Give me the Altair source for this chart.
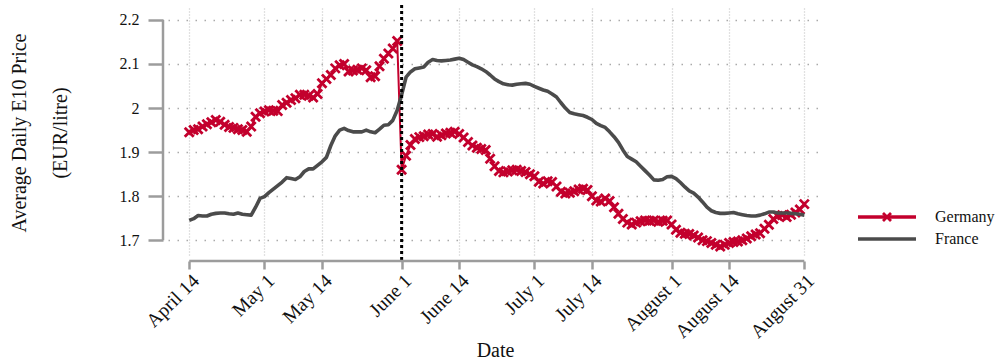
import altair as alt
import pandas as pd

# Daily average E10 prices (EUR/litre), 14 April - 31 August 2022
first_day = "2022-04-14"
n_days = 140

germany = [
    1.945, 1.950, 1.952, 1.958, 1.963, 1.968, 1.973, 1.969, 1.962, 1.957,
    1.955, 1.952, 1.950, 1.946, 1.958, 1.980, 1.988, 1.992, 1.995, 1.994,
    1.993, 2.007, 2.012, 2.018, 2.022, 2.030, 2.030, 2.028, 2.024, 2.032,
    2.056, 2.066, 2.075, 2.090, 2.097, 2.100, 2.083, 2.085, 2.087, 2.090,
    2.086, 2.070, 2.072, 2.095, 2.112, 2.124, 2.135, 2.152, 1.860, 1.892,
    1.916, 1.930, 1.934, 1.936, 1.940, 1.941, 1.935, 1.938, 1.942, 1.944,
    1.946, 1.941, 1.933, 1.923, 1.915, 1.910, 1.907, 1.905, 1.885, 1.868,
    1.857, 1.854, 1.856, 1.859, 1.860, 1.857, 1.855, 1.850, 1.845, 1.833,
    1.829, 1.834, 1.832, 1.822, 1.810, 1.806, 1.808, 1.811, 1.815, 1.817,
    1.814, 1.800, 1.790, 1.788, 1.795, 1.789, 1.775, 1.760, 1.748, 1.740,
    1.736, 1.740, 1.743, 1.745, 1.744, 1.745, 1.742, 1.744, 1.745, 1.736,
    1.724, 1.717, 1.715, 1.714, 1.711, 1.706, 1.700, 1.698, 1.694, 1.690,
    1.686, 1.690, 1.694, 1.696, 1.697, 1.700, 1.704, 1.709, 1.713, 1.716,
    1.726, 1.735, 1.748, 1.755, 1.757, 1.753, 1.758, 1.763, 1.770, 1.782,
]

france = [
    1.745, 1.749, 1.756, 1.755, 1.755, 1.759, 1.761, 1.762, 1.762, 1.760,
    1.759, 1.762, 1.759, 1.758, 1.757, 1.775, 1.795, 1.799, 1.808, 1.816,
    1.824, 1.832, 1.842, 1.840, 1.838, 1.844, 1.856, 1.862, 1.862, 1.870,
    1.878, 1.888, 1.915, 1.937, 1.950, 1.954, 1.949, 1.946, 1.946, 1.946,
    1.950, 1.946, 1.944, 1.952, 1.961, 1.962, 1.972, 1.995, 2.030, 2.070,
    2.082, 2.089, 2.091, 2.093, 2.104, 2.110, 2.108, 2.107, 2.108, 2.109,
    2.111, 2.113, 2.110, 2.104, 2.098, 2.094, 2.089, 2.083, 2.075, 2.066,
    2.060, 2.055, 2.053, 2.052, 2.054, 2.055, 2.056, 2.054, 2.049, 2.045,
    2.041, 2.038, 2.032, 2.025, 2.012, 2.000, 1.990, 1.987, 1.985, 1.983,
    1.979, 1.974, 1.965, 1.960, 1.956, 1.946, 1.935, 1.922, 1.905, 1.890,
    1.884, 1.878, 1.868, 1.858, 1.848, 1.837, 1.836, 1.838, 1.844, 1.845,
    1.840, 1.831, 1.821, 1.812, 1.807, 1.798, 1.787, 1.775, 1.767, 1.763,
    1.761, 1.761, 1.762, 1.763, 1.760, 1.758, 1.756, 1.755, 1.755, 1.757,
    1.760, 1.764, 1.764, 1.762, 1.762, 1.762, 1.761, 1.760, 1.759, 1.757,
]

series_names = ["Germany", "France"]
series_colors = ["#C3002D", "#4B4B4B"]

x_tick_dates = ["2022-04-14", "2022-05-01", "2022-05-14", "2022-06-01", "2022-06-14",
                "2022-07-01", "2022-07-14", "2022-08-01", "2022-08-14", "2022-08-31"]
y_ticks = [1.7, 1.8, 1.9, 2.0, 2.1, 2.2]
policy_date = "2022-06-01"

y_title = ["Average Daily E10 Price", "(EUR/litre)"]
x_title = "Date"

# ---------------------------------------------------------------------------
dates = pd.date_range(first_day, periods=n_days, freq="D").strftime("%Y-%m-%d").tolist()
ger_df = pd.DataFrame({"date": dates, "price": germany})
fra_df = pd.DataFrame({"date": dates, "price": france})


def dt(s, hours=0, minutes=0):
    y, m, d = (int(v) for v in s.split("-"))
    return alt.DateTime(year=y, month=m, date=d, hours=hours, minutes=minutes, utc=True)


W, H = 654, 249
FONT = "Liberation Serif"
FRAME = "#9c9c9c"
X_MARK = "M-1,-1L1,1M-1,1L1,-1"

x_scale = alt.Scale(type="utc", domain=[dt("2022-04-09", 4, 48), dt("2022-09-04")])
y_scale = alt.Scale(domain=[1.662, 2.227], nice=False, zero=False)

x_axis = alt.Axis(
    values=[dt(s) for s in x_tick_dates],
    labelExpr="utcFormat(datum.value, '%B %-d')",
    labelFont=FONT, labelFontSize=19.5, labelColor="#111",
    labelAngle=-45, labelAlign="right", labelBaseline="top",
    labelPadding=2, tickSize=8, offset=4, labelOverlap=False, labelBound=False,
    labelFlush=False,
    title=x_title, titleY=95, titleBaseline="alphabetic",
)
y_axis = alt.Axis(
    values=y_ticks, format="~g", tickSize=15, labelPadding=9, offset=5,
    labelFont=FONT, labelFontSize=16, labelColor="#111",
    labelOverlap=False,
    title=y_title, titleAngle=-90, titleAlign="center", titleBaseline="alphabetic",
    titleX=-138, titleLineHeight=41,
)

x_enc = alt.X("date:T", scale=x_scale, axis=x_axis)
y_enc = alt.Y("price:Q", scale=y_scale, axis=y_axis)

ger_line = alt.Chart(ger_df).mark_line(
    strokeWidth=2, strokeJoin="round", color=series_colors[0]).encode(x=x_enc, y=y_enc)

ger_pts = alt.Chart(ger_df).mark_point(
    shape=X_MARK, filled=False, size=81, strokeWidth=2.8,
    opacity=1, color=series_colors[0]).encode(x="date:T", y="price:Q")

fra_line = alt.Chart(fra_df).mark_line(
    strokeWidth=3.6, strokeJoin="round", color=series_colors[1]).encode(x="date:T", y="price:Q")

# Dotted marker for the 1 June policy date, running the full panel height
vline = alt.Chart(pd.DataFrame({"date": [policy_date]})).mark_rule(
    color="black", strokeWidth=3, strokeDash=[3, 3]).encode(
    x="date:T", y=alt.value(-3), y2=alt.value(H + 4))

# Range-frame axis lines spanning the first to the last tick
y_frame = alt.Chart(pd.DataFrame({"lo": [min(y_ticks)], "hi": [max(y_ticks)]})).mark_rule(
    color=FRAME, strokeWidth=2.5).encode(y="lo:Q", y2="hi:Q", x=alt.value(-5))
x_frame = alt.Chart(pd.DataFrame({"a": [x_tick_dates[0]], "b": [x_tick_dates[-1]]})).mark_rule(
    color=FRAME, strokeWidth=2.5).encode(x="a:T", x2="b:T", y=alt.value(H + 4))

# Legend, placed to the right of the panel
LEG_X, LEG_Y, LEG_ROW, LEG_LEN = 690, 209, 22, 58
legend_layers = []
for i, (name, col) in enumerate(zip(series_names, series_colors)):
    row = alt.Chart(pd.DataFrame({"series": [name]}))
    yy = alt.value(LEG_Y + i * LEG_ROW)
    legend_layers.append(row.mark_rule(color=col, strokeWidth=3.5).encode(
        x=alt.value(LEG_X), x2=alt.value(LEG_X + LEG_LEN), y=yy))
    if name == "Germany":
        legend_layers.append(row.mark_point(
            shape=X_MARK, filled=False, size=64, strokeWidth=2.8, opacity=1, color=col
        ).encode(x=alt.value(LEG_X + LEG_LEN / 2), y=yy))
    legend_layers.append(row.mark_text(
        align="left", baseline="middle", font=FONT, fontSize=16, color="#111"
    ).encode(x=alt.value(LEG_X + LEG_LEN + 19), y=yy, text="series:N"))

chart = alt.layer(ger_line, ger_pts, fra_line, vline, y_frame, x_frame, *legend_layers).properties(
    width=W, height=H,
    autosize=alt.AutoSizeParams(type="none"),
    padding={"left": 168, "top": 8, "right": 998 - 168 - W, "bottom": 363 - 8 - H},
    background="white",
).configure_view(stroke=None).configure_axis(
    domain=False,
    tickColor=FRAME, tickWidth=2.5,
    titleFont=FONT, titleFontSize=20, titleFontWeight="normal", titleColor="#111",
).configure_axisX(
    grid=True, gridColor="#c4c4c4", gridDash=[1, 2], gridWidth=1.3,
).configure_axisY(
    grid=True, gridColor="#aaaaaa", gridDash=[1.5, 7.5], gridWidth=1.6,
)

chart.save("out.html", embed_options={"renderer": "svg", "actions": False})
